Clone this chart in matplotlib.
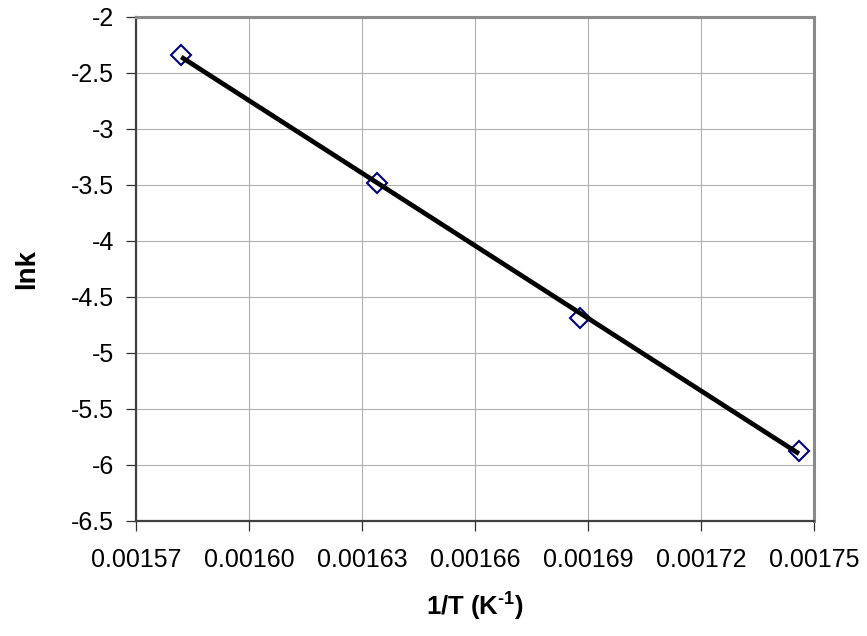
import matplotlib
matplotlib.use('Agg')
import matplotlib.pyplot as plt
import numpy as np

plt.rcParams['font.family'] = ['Liberation Sans', 'DejaVu Sans']
plt.rcParams['mathtext.fontset'] = 'custom'
plt.rcParams['mathtext.rm'] = 'Liberation Sans:bold'
plt.rcParams['mathtext.default'] = 'rm'

# data
inv_T = [0.001582, 0.001634, 0.001688, 0.001746]
ln_k = [-2.342, -3.488, -4.688, -5.875]

x_ticks = [0.00157, 0.00160, 0.00163, 0.00166, 0.00169, 0.00172, 0.00175]
x_labels = ['0.00157', '0.00160', '0.00163', '0.00166', '0.00169', '0.00172', '0.00175']
y_ticks = [-6.5, -6, -5.5, -5, -4.5, -4, -3.5, -3, -2.5, -2]
y_labels = ['-6.5', '-6', '-5.5', '-5', '-4.5', '-4', '-3.5', '-3', '-2.5', '-2']

fig = plt.figure(figsize=(8.67, 6.36), dpi=100)
ax = fig.add_axes([0.1569, 0.1813, 0.782, 0.7924])

# linear trendline between first and last point
slope, icept = np.polyfit(inv_T, ln_k, 1)
x_fit = np.array([inv_T[0], inv_T[-1]])
ax.plot(x_fit, slope * x_fit + icept, color='black', lw=3.4, zorder=4,
        solid_capstyle='butt')

ax.plot(inv_T, ln_k, linestyle='none', marker='D', ms=10, mew=1.5,
        mfc='white', mec='#000080', zorder=3)

ax.set_xlim(x_ticks[0], x_ticks[-1])
ax.set_ylim(y_ticks[0], y_ticks[-1])
ax.set_xticks(x_ticks)
ax.set_xticklabels(x_labels)
ax.set_yticks(y_ticks)
ax.set_yticklabels(y_labels)

ax.grid(True, color='#b0b0b0', lw=0.8, zorder=0)
ax.set_axisbelow(True)

ax.tick_params(direction='out', length=7, width=0.9, color='#303030',
               labelsize=18, pad=9)
ax.tick_params(axis='x', pad=13)

for s in ['left', 'bottom']:
    ax.spines[s].set_color('#404040')
    ax.spines[s].set_linewidth(1.6)
for s in ['top', 'right']:
    ax.spines[s].set_color('#8a8a8a')
    ax.spines[s].set_linewidth(2.2)

ax.set_xlabel(r'1/T (K$^{\text{-1}}$)', fontsize=18.5, fontweight='bold', labelpad=13)
ax.set_ylabel('lnk', fontsize=20, fontweight='bold', labelpad=22)

fig.savefig('out.png', dpi=100)
